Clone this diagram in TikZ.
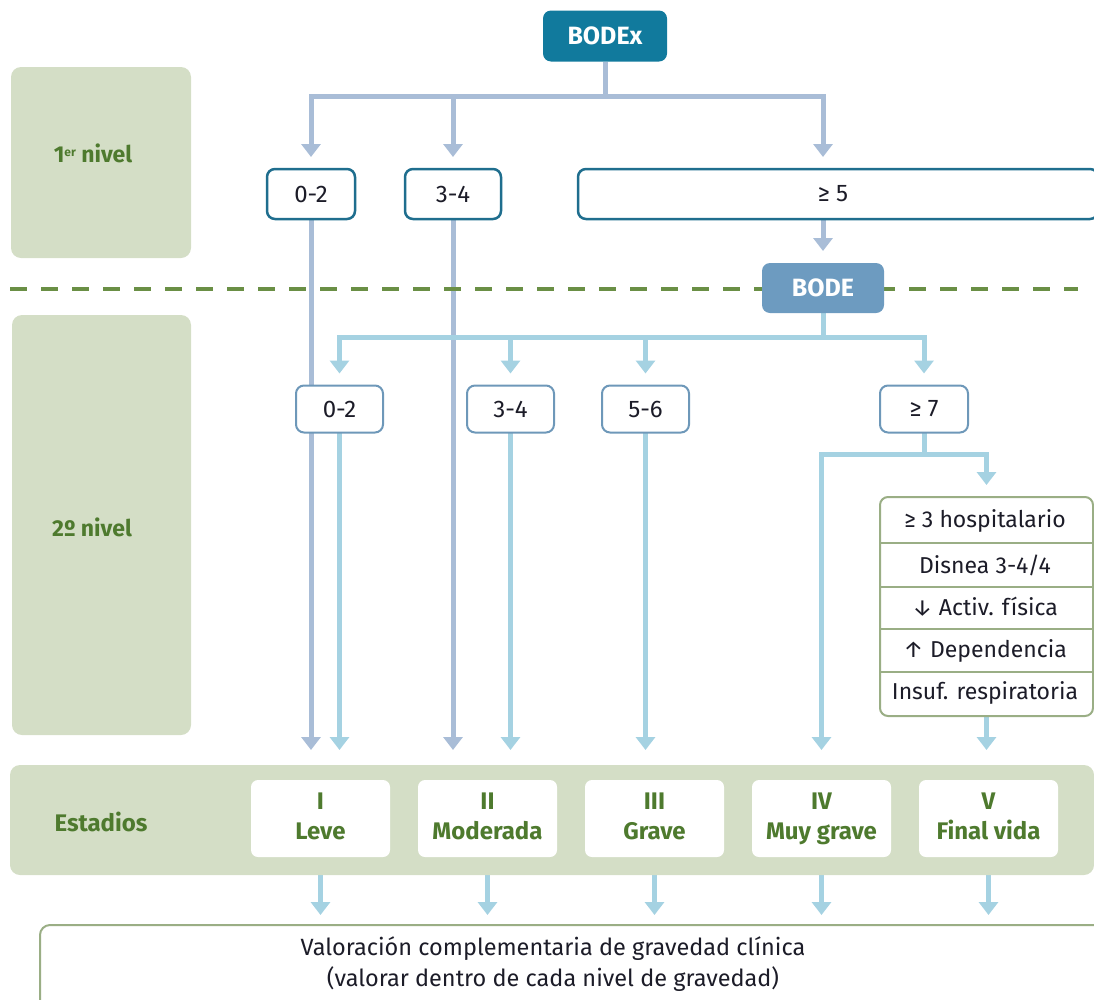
\documentclass[tikz,border=0pt]{standalone}
\usepackage{fontspec}
\setmainfont{Fira Sans}
\usetikzlibrary{arrows.meta}
\definecolor{teal1}{HTML}{117A9D}
\definecolor{teal2}{HTML}{1F6E8E}
\definecolor{steel}{HTML}{6D9BC0}
\definecolor{steelb}{HTML}{6E98B9}
\definecolor{gblue}{HTML}{A9BDD7}
\definecolor{lblue}{HTML}{A5D2E2}
\definecolor{bandg}{HTML}{D4DEC6}
\definecolor{txtg}{HTML}{4E7A2E}
\definecolor{dashg}{HTML}{6A8F45}
\definecolor{listb}{HTML}{9AAE85}
\definecolor{ink}{HTML}{1C1C28}
\pgfdeclarelayer{bg}
\pgfsetlayers{bg,main}
\begin{document}
\begin{tikzpicture}[x=1pt,y=-1pt,
  every node/.style={inner sep=0pt,outer sep=0pt},
  hdr/.style={fill=#1,rounded corners=8pt,text=white,font=\fontsize{25}{30}\selectfont\bfseries,minimum height=51pt},
  lvla/.style={draw=teal2,line width=2.5pt,fill=white,rounded corners=8pt,minimum height=50pt,text=ink,font=\fontsize{24}{28}\selectfont},
  lvlb/.style={draw=steelb,line width=2pt,fill=white,rounded corners=8pt,minimum height=47pt,minimum width=87pt,text=ink,font=\fontsize{24}{28}\selectfont},
  stg/.style={fill=white,rounded corners=7pt,minimum width=139pt,minimum height=77pt,align=center,text=txtg,font=\fontsize{24}{30}\selectfont\bfseries},
  lab/.style={text=txtg,font=\fontsize{23}{26}\selectfont\bfseries},
  panel/.style={fill=bandg,rounded corners=10pt},
  row/.style={text=ink,font=\fontsize{23}{26}\selectfont},
  ca/.style={draw=gblue,line width=5pt,-{Triangle[width=19pt,length=13pt]},shorten >=12pt},
  cb/.style={draw=lblue,line width=5pt,-{Triangle[width=19pt,length=13pt]},shorten >=12pt},
]
\useasboundingbox (0,0) rectangle (1094,999);

% side panels
\fill[panel] (11,67) rectangle (191,258);
\node[lab] (n1) at (93,153) {1{\fontsize{12}{12}\selectfont\raisebox{6pt}{er}} nivel};
\fill[panel] (12,315) rectangle (191,735);
\node[lab] (n2) at (92,527) {2º nivel};
\fill[panel] (10,765) rectangle (1094,875);
\node[lab,font=\fontsize{24}{28}\selectfont\bfseries] (est) at (101,822) {Estadios};

% dashed separator
\draw[dashg,line width=3.5pt,dash pattern=on 17pt off 14pt] (10,289) -- (1078,289);

% top nodes
\node[hdr=teal1,minimum width=124pt] (bodex) at (605,36) {BODEx};
\node[lvla,minimum width=88pt] (a1) at (311,194) {0-2};
\node[lvla,minimum width=96pt] (a2) at (453,194) {3-4};
\node[lvla,minimum width=520pt] (a3) at (838,194) {};
\node[text=ink,font=\fontsize{24}{28}\selectfont] (a3t) at (833,194) {≥ 5};
\node[hdr=steel,minimum width=122pt,minimum height=50pt] (bode) at (823,288) {BODE};

% level 2 nodes
\node[lvlb] (b1) at (339.5,409) {0-2};
\node[lvlb] (b2) at (510.5,409) {3-4};
\node[lvlb] (b3) at (645.5,409) {5-6};
\node[lvlb,minimum width=88pt] (b4) at (924,409) {≥ 7};

% list box
\node[draw=listb,line width=2pt,fill=white,rounded corners=8pt,minimum width=213pt,minimum height=219pt] (list) at (986.5,606.5) {};
\node[row] (r1) at (985,521) {≥ 3 hospitalario};
\node[row] (r2) at (985,565) {Disnea 3-4/4};
\node[row] (r3) at (985,607) {↓ Activ. física};
\node[row] (r4) at (985,651) {↑ Dependencia};
\node[row] (r5) at (985,693) {Insuf. respiratoria};
\foreach \yy in {543,587,629,672}
  \draw[listb,line width=1.5pt] (list.west |- 0,\yy) -- (list.east |- 0,\yy);

% stage boxes
\node[stg] (s1) at (320.5,818.5) {I\strut\\Leve\strut};
\node[stg] (s2) at (487.5,818.5) {II\strut\\Moderada\strut};
\node[stg] (s3) at (654.5,818.5) {III\strut\\Grave\strut};
\node[stg] (s4) at (821.5,818.5) {IV\strut\\Muy grave\strut};
\node[stg] (s5) at (988.5,818.5) {V\strut\\Final vida\strut};

% bottom box
\node[draw=listb,line width=2pt,fill=white,rounded corners=10pt,minimum width=1070pt,minimum height=90pt] (bot) at (575,970) {};
\node[text=ink,align=center,font=\fontsize{23.5}{31}\selectfont] (bott) at (553,964) {Valoración complementaria de gravedad clínica\\(valorar dentro de cada nivel de gravedad)};

\begin{pgfonlayer}{bg}
% level 1 connectors
\draw[ca] (bodex.south) -- ++(0,35) -| (a1.north);
\draw[ca] (bodex.south) -- ++(0,35) -| (a2.north);
\draw[ca] (bodex.south) -- ++(0,35) -| (a3.north -| bode.north);
\draw[ca] (a3.south -| bode.north) -- (bode.north);
\draw[ca,shorten >=30pt] (a1.south) -- (a1.south |- s1.north);
\draw[ca,shorten >=30pt] (a2.south) -- (a2.south |- s2.north);
% level 2 connectors
\draw[cb] (bode.south) -- ++(0,24) -| (b1.north);
\draw[cb] (bode.south) -- ++(0,24) -| (b2.north);
\draw[cb] (bode.south) -- ++(0,24) -| (b3.north);
\draw[cb] (bode.south) -- ++(0,24) -| (b4.north);
\draw[cb,shorten >=30pt] (b1.south) -- (b1.south |- s1.north);
\draw[cb,shorten >=30pt] (b2.south) -- (b2.south |- s2.north);
\draw[cb,shorten >=30pt] (b3.south) -- (b3.south |- s3.north);
\draw[cb,shorten >=30pt] (b4.south) -- ++(0,22) -| (s4.north);
\draw[cb] (b4.south) -- ++(0,22) -| (list.north);
\draw[cb,shorten >=30pt] (list.south) -- (list.south |- s5.north);
% stage to bottom
\foreach \s in {s1,s2,s3,s4,s5}
  \draw[cb,shorten <=18pt,shorten >=10pt] (\s.south) -- (\s.south |- bot.north);
\end{pgfonlayer}
\end{tikzpicture}
\end{document}
